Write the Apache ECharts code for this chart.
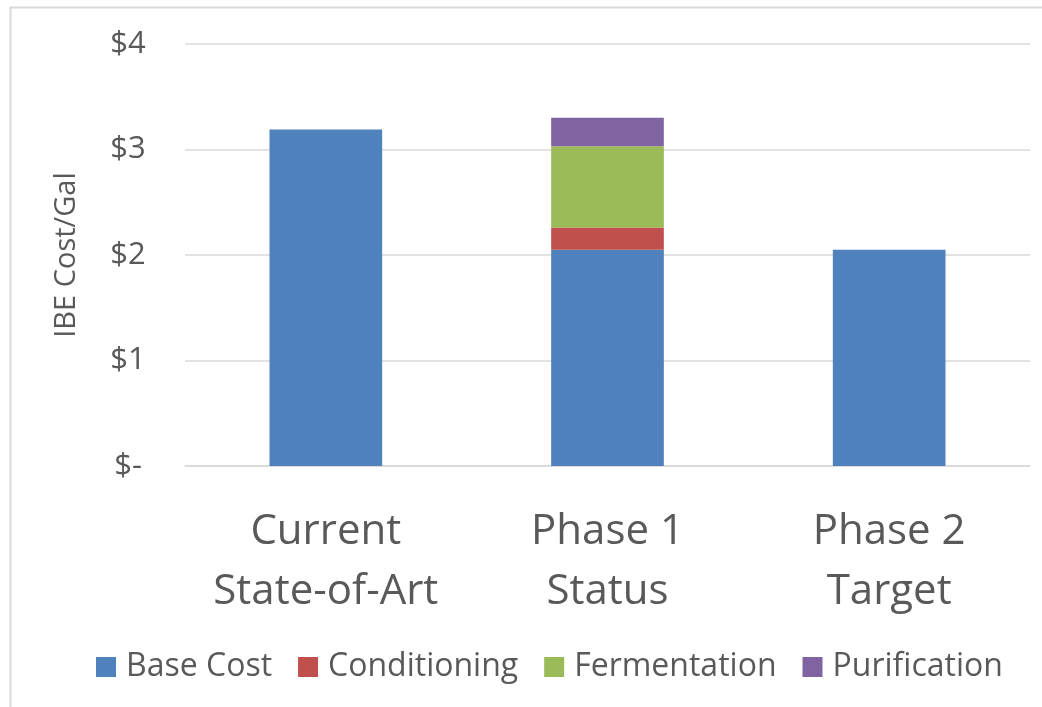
<!DOCTYPE html>
<html>
<head>
<meta charset="utf-8">
<script src="https://cdn.jsdelivr.net/npm/echarts@6/dist/echarts.min.js"></script>
<style>
  html, body { margin: 0; padding: 0; background: #fff; }
  #chart { width: 1042px; height: 707px; }
</style>
</head>
<body>
<div id="chart"></div>
<script>
var categories = ['Current\nState-of-Art', 'Phase 1\nStatus', 'Phase 2\nTarget'];
var baseCost = [3.19, 2.05, 2.05];
var conditioning = [0, 0.21, 0];
var fermentation = [0, 0.77, 0];
var purification = [0, 0.27, 0];
var yTicks = [0, 1, 2, 3, 4];

var myChart = echarts.init(document.getElementById('chart'));
var font = '"Open Sans", sans-serif';

function stackSeries(name, data, color) {
    return {
        name: name,
        type: 'bar',
        stack: 'cost',
        barWidth: '40%',
        data: data,
        itemStyle: { color: color },
        emphasis: { disabled: true }
    };
}

var option = {
    animation: false,
    textStyle: { fontFamily: font },
    graphic: [{
        type: 'rect',
        shape: { x: 10.5, y: 7.5, width: 1100, height: 800 },
        style: { fill: 'none', stroke: '#d9d9d9', lineWidth: 2 },
        silent: true
    }],
    grid: { left: 185, right: 12, top: 44, bottom: 241 },
    legend: {
        top: 645,
        left: 91,
        itemWidth: 20,
        itemHeight: 20,
        itemGap: 26,
        icon: 'rect',
        textStyle: {
            fontSize: 32,
            lineHeight: 34,
            color: '#595959',
            fontFamily: font,
            padding: [0, 0, 0, 5]
        }
    },
    xAxis: {
        type: 'category',
        data: categories,
        axisLine: { lineStyle: { color: '#d9d9d9', width: 1.5 } },
        axisTick: { show: false },
        axisLabel: {
            fontSize: 42,
            color: '#595959',
            lineHeight: 60,
            margin: 36,
            interval: 0
        }
    },
    yAxis: {
        type: 'value',
        min: 0,
        max: 4,
        interval: 1,
        name: 'IBE Cost/Gal',
        nameLocation: 'middle',
        nameGap: 104,
        nameTextStyle: { fontSize: 29, color: '#595959' },
        axisLine: { show: false },
        axisTick: { show: false },
        splitLine: { lineStyle: { color: '#d9d9d9', width: 1.5 } },
        axisLabel: {
            fontSize: 31,
            color: '#595959',
            margin: 57,
            align: 'center',
            formatter: function (v) {
                return yTicks.indexOf(v) === 0 ? '$-' : '$' + v;
            }
        }
    },
    series: [
        stackSeries('Base Cost', baseCost, '#4f81bd'),
        stackSeries('Conditioning', conditioning, '#c0504d'),
        stackSeries('Fermentation', fermentation, '#9bbb59'),
        stackSeries('Purification', purification, '#8064a2')
    ]
};
myChart.setOption(option);
</script>
</body>
</html>
